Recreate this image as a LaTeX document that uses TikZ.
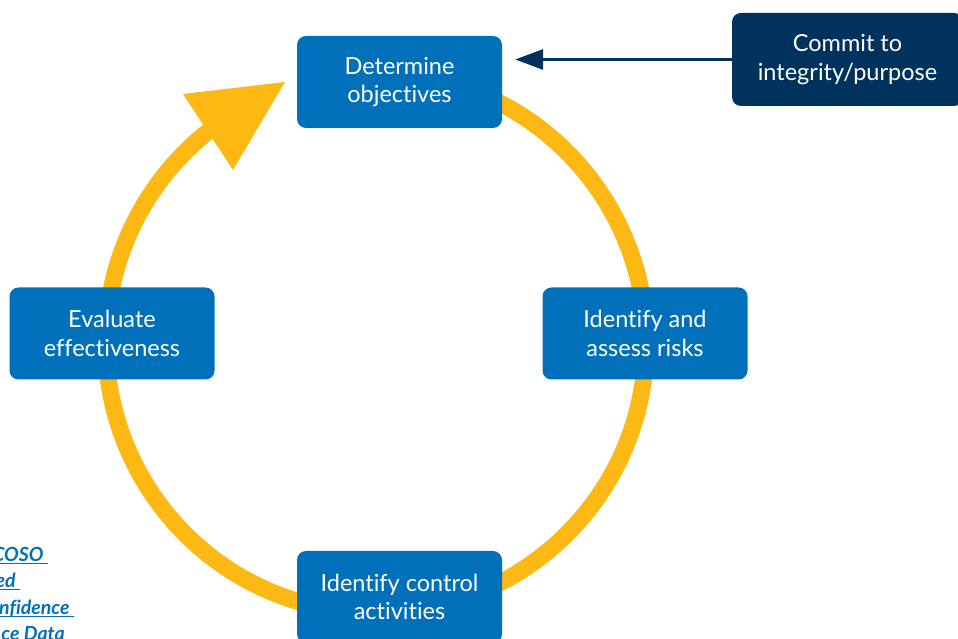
\documentclass[tikz,border=0pt]{standalone}
\usepackage{fontspec}
\setmainfont{Lato}[Ligatures=NoCommon]
\usetikzlibrary{arrows.meta}
\definecolor{boxblue}{RGB}{0,112,186}
\definecolor{ringyellow}{RGB}{253,184,19}
\definecolor{navy}{RGB}{0,50,94}
\newcommand\ulinkfrag[1]{\setbox0\hbox{#1\ }\makebox[0pt][l]{\rule[-2.5pt]{\wd0}{1.6pt}}\box0}
\tikzset{
  stepbox/.style={fill=boxblue, rounded corners=9pt, minimum width=205pt, minimum height=92pt,
    text=white, align=center, inner sep=0pt, font=\fontsize{23.5}{28.5}\selectfont},
  commitbox/.style={stepbox, fill=navy, minimum width=231pt, minimum height=93pt},
  frag/.style={text=boxblue, inner sep=0pt, anchor=base east,
    font=\fontsize{19.5}{26}\selectfont\bfseries\itshape},
  ring/.style={draw=ringyellow, line width=17pt},
  link/.style={draw=navy, line width=3pt, -{Triangle[length=28pt,width=20pt]}}
}
\begin{document}
\begin{tikzpicture}[x=1pt,y=1pt]
\useasboundingbox (0,0) rectangle (958,639);
\clip (0,0) rectangle (958,639);
% ring with arrowhead
\draw[ring] ([shift={(376,296)}]80:270) arc[start angle=80, end angle=-232, radius=270];
\fill[ringyellow] (285,557) -- (183,545) -- (233,469) -- cycle;
% boxes
\node[stepbox] (top) at (399.5,557) {Determine\\objectives};
\node[stepbox] (right) at (645,305.5) {Identify and\\assess risks};
\node[stepbox] (bottom) at (399.5,42) {Identify control\\activities};
\node[stepbox] (left) at (112,305.5) {Evaluate\\effectiveness};
\node[commitbox] (commit) at (847.5,579.5) {Commit to\\integrity/purpose};
\draw[link, shorten >=13pt] (commit.west) -- (commit.west -| top.east);
% cut-off link text
\node[frag] (f1) at (48,77) {\ulinkfrag{COSO}};
\node[frag] (f2) at (20,51) {\ulinkfrag{ed}};
\node[frag] (f3) at (74,24) {\ulinkfrag{nfidence}};
\node[frag] (f4) at (65,-2) {ce Data};
\end{tikzpicture}
\end{document}
